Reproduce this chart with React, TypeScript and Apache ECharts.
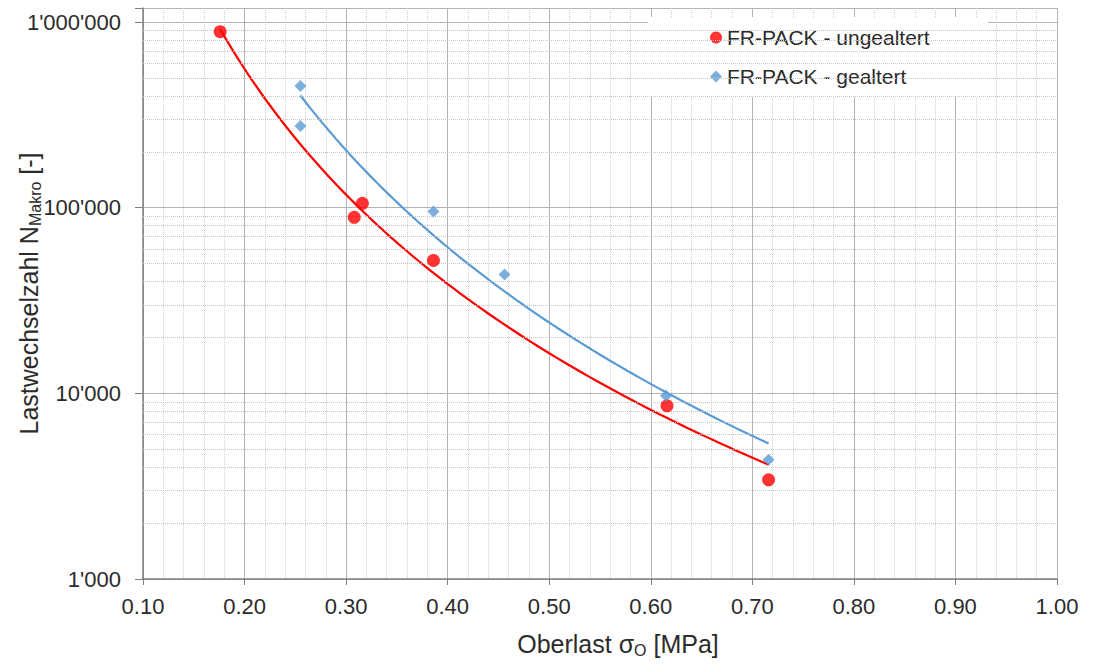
import React, { useEffect, useRef } from "react";
import * as echarts from "echarts";

// Data
const redSigma = [0.176, 0.308, 0.316, 0.386, 0.616, 0.716];
const redN = [887000, 88700, 105500, 52000, 8570, 3420];
const blueSigma = [0.255, 0.255, 0.386, 0.456, 0.615, 0.716];
const blueN = [452000, 275000, 95500, 43700, 9700, 4390];

const redName = "FR-PACK - ungealtert";
const blueName = "FR-PACK - gealtert";

const xTicks = [0.1, 0.2, 0.3, 0.4, 0.5, 0.6, 0.7, 0.8, 0.9, 1.0];
const yMajor = [1000, 10000, 100000, 1000000];
const yMinorFactors = [2, 3, 4, 5, 6, 7, 8, 9];
const yTop = 1190000; // plot area extends a little above 1'000'000

const RED = "#ff0000";
const BLUE = "#5b9bd5";
const TEXT = "#2b2b2b";
const FONT = "Liberation Sans, Arial, sans-serif";

// power-law regression (like Excel's power trendline)
function powerFit(xs: number[], ys: number[]) {
  const lx = xs.map((v) => Math.log10(v));
  const ly = ys.map((v) => Math.log10(v));
  const n = xs.length;
  const mx = lx.reduce((a, b) => a + b, 0) / n;
  const my = ly.reduce((a, b) => a + b, 0) / n;
  let sxy = 0;
  let sxx = 0;
  for (let i = 0; i < n; i++) {
    sxy += (lx[i] - mx) * (ly[i] - my);
    sxx += (lx[i] - mx) * (lx[i] - mx);
  }
  const b = sxy / sxx;
  const loga = my - b * mx;
  const lo = Math.min(...xs);
  const hi = Math.max(...xs);
  const pts: number[][] = [];
  const steps = 80;
  for (let i = 0; i <= steps; i++) {
    const x = lo + ((hi - lo) * i) / steps;
    pts.push([x, Math.pow(10, loga + b * Math.log10(x))]);
  }
  return pts;
}

const fmtThousands = (v: number) => {
  const r = Math.round(v);
  if (yMajor.indexOf(r) < 0) return "";
  return String(r).replace(/\B(?=(\d{3})+(?!\d))/g, "'");
};

export default function App() {
  const ref = useRef<HTMLDivElement>(null);
  useEffect(() => {
    if (!ref.current) return;
    const chart = echarts.init(ref.current, null, { renderer: "svg" });
    const minorY: number[] = [];
    yMajor.slice(0, -1).forEach((m) => yMinorFactors.forEach((f) => minorY.push(m * f)));

    const option: any = {
      animation: false,
      backgroundColor: "#ffffff",
      textStyle: { fontFamily: FONT },
      grid: {
        left: 143,
        right: 37,
        top: 8,
        bottom: 87,
        containLabel: false,
        outerBoundsMode: "none",
      },
      legend: {
        data: [
          { name: redName, icon: "circle", itemStyle: { color: RED } },
          { name: blueName, icon: "diamond", itemStyle: { color: BLUE } },
        ],
        orient: "vertical",
        left: 648,
        top: 17,
        backgroundColor: "#ffffff",
        padding: [10, 58, 10, 62],
        itemGap: 18,
        itemWidth: 12,
        itemHeight: 12,
        textStyle: { fontSize: 21, lineHeight: 21, color: TEXT, fontFamily: FONT },
      },
      xAxis: {
        type: "value",
        min: xTicks[0],
        max: xTicks[xTicks.length - 1],
        interval: 0.1,
        name: "{a|Oberlast σ}{b|O}{a| [MPa]}",
        nameLocation: "middle",
        nameGap: 51,
        nameMoveOverlap: false,
        nameTextStyle: {
          padding: [0, 0, 0, 36],
          rich: {
            a: { fontSize: 25, color: TEXT, fontFamily: FONT },
            b: { fontSize: 16, color: TEXT, fontFamily: FONT, padding: [12, 0, 0, 0] },
          },
        },
        axisLine: { show: true, lineStyle: { color: "#7f7f7f", width: 1.5 } },
        axisTick: { show: true, length: 6, lineStyle: { color: "#7f7f7f" } },
        axisLabel: {
          fontSize: 22,
          color: TEXT,
          margin: 16,
          formatter: (v: number) => v.toFixed(2),
        },
        splitLine: { show: true, lineStyle: { color: "#b4b4b4", width: 1 } },
        minorTick: { show: false, splitNumber: 5 },
        minorSplitLine: { show: true, lineStyle: { color: "#d0d0d0", width: 1, type: "dotted" } },
      },
      yAxis: {
        type: "log",
        logBase: 10,
        min: yMajor[0],
        max: yTop,
        name: "{a|Lastwechselzahl N}{b|Makro}{a| [-]}",
        nameLocation: "middle",
        nameGap: 100,
        nameMoveOverlap: false,
        nameTextStyle: {
          rich: {
            a: { fontSize: 25, color: TEXT, fontFamily: FONT },
            b: { fontSize: 16, color: TEXT, fontFamily: FONT, padding: [12, 0, 0, 0] },
          },
        },
        axisLine: { show: true, lineStyle: { color: "#7f7f7f", width: 1.5 } },
        axisTick: { show: true, length: 8, lineStyle: { color: "#7f7f7f" } },
        axisLabel: {
          fontSize: 22,
          color: TEXT,
          margin: 22,
          formatter: (v: number) => fmtThousands(v),
        },
        splitLine: { show: true, lineStyle: { color: "#b4b4b4", width: 1 } },
      },
      series: [
        {
          name: "minorGrid",
          type: "line",
          data: [],
          z: 1,
          silent: true,
          markLine: {
            silent: true,
            symbol: ["none", "none"],
            label: { show: false },
            lineStyle: { color: "#c4c4c4", width: 1, type: "dotted" },
            data: minorY.map((v) => ({ yAxis: v })),
          },
        },
        {
          name: "redTrend",
          type: "line",
          data: powerFit(redSigma, redN),
          showSymbol: false,
          symbol: "none",
          lineStyle: { color: RED, width: 2.2 },
          z: 3,
          silent: true,
        },
        {
          name: "blueTrend",
          type: "line",
          data: powerFit(blueSigma, blueN),
          showSymbol: false,
          symbol: "none",
          lineStyle: { color: BLUE, width: 2.2 },
          z: 3,
          silent: true,
        },
        {
          name: redName,
          type: "scatter",
          data: redSigma.map((s, i) => [s, redN[i]]),
          symbol: "circle",
          symbolSize: 13,
          itemStyle: { color: RED },
          z: 5,
        },
        {
          name: blueName,
          type: "scatter",
          data: blueSigma.map((s, i) => [s, blueN[i]]),
          symbol: "diamond",
          symbolSize: 12,
          itemStyle: { color: BLUE },
          z: 5,
        },
      ],
    };
    chart.setOption(option);
    return () => chart.dispose();
  }, []);
  return (
    <div
      ref={ref}
      style={{ position: "fixed", left: 0, top: 0, width: 1094, height: 666, background: "#fff" }}
    />
  );
}
